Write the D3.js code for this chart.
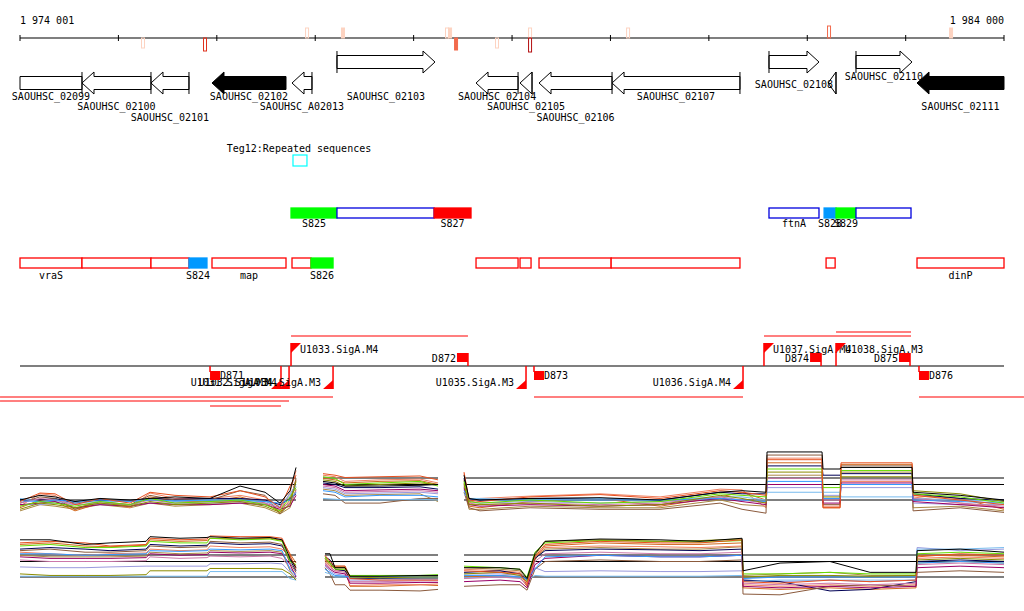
<!DOCTYPE html>
<html>
<head>
<meta charset="utf-8">
<script src="https://cdn.jsdelivr.net/npm/d3@7"></script>
<style>
body { margin: 0; background: #fff; }
svg { display: block; }
text { font-family: "DejaVu Sans Mono", monospace; font-size: 10px; fill: #000; }
</style>
</head>
<body>
<svg id="chart" width="1024" height="611"></svg>
<script>
// ---------------- data ----------------
var viewStart = 1974001, viewEnd = 1984000;
var axisLabels = ["1 974 001", "1 984 000"];
var tickValues = [1974001, 1975001, 1976001, 1977001, 1978001, 1979001, 1980001, 1981001, 1982001, 1983001, 1984000];

// signal marks on the ruler: position, strand side, level 1..4, filled
var sigMarks = [
  {pos: 1975251, side: -1, level: 1, filled: false},
  {pos: 1975881, side: -1, level: 3, filled: false},
  {pos: 1976918, side: 1, level: 1, filled: false},
  {pos: 1977283, side: 1, level: 1, filled: true},
  {pos: 1978340, side: 1, level: 1, filled: false},
  {pos: 1978371, side: 1, level: 1, filled: true},
  {pos: 1978432, side: -1, level: 2, filled: true},
  {pos: 1978848, side: -1, level: 1, filled: false},
  {pos: 1979184, side: 1, level: 1, filled: false},
  {pos: 1979184, side: -1, level: 4, filled: false},
  {pos: 1980180, side: 1, level: 1, filled: false},
  {pos: 1982222, side: 1, level: 2, filled: false},
  {pos: 1983462, side: 1, level: 1, filled: true}
];

var genes = [
  {name: "SAOUHSC_02099", start: 1973500, end: 1974631, strand: -1, black: false, lane: 2},
  {name: "SAOUHSC_02100", start: 1974631, end: 1975332, strand: -1, black: false, lane: 3},
  {name: "SAOUHSC_02101", start: 1975332, end: 1975718, strand: -1, black: false, lane: 4},
  {name: "SAOUHSC_02102", start: 1975952, end: 1976704, strand: -1, black: true, lane: 2},
  {name: "SAOUHSC_A02013", start: 1976765, end: 1976968, strand: -1, black: false, lane: 3},
  {name: "SAOUHSC_02103", start: 1977222, end: 1978218, strand: 1, black: false, lane: 2},
  {name: "SAOUHSC_02104", start: 1978635, end: 1979062, strand: -1, black: false, lane: 2},
  {name: "SAOUHSC_02105", start: 1979082, end: 1979204, strand: -1, black: false, lane: 3},
  {name: "SAOUHSC_02106", start: 1979275, end: 1980017, strand: -1, black: false, lane: 4},
  {name: "SAOUHSC_02107", start: 1980017, end: 1981317, strand: -1, black: false, lane: 2},
  {name: "SAOUHSC_02108", start: 1981612, end: 1982120, strand: 1, black: false, lane: 1},
  {name: "", start: 1982212, end: 1982293, strand: -1, black: false, lane: 0},
  {name: "SAOUHSC_02110", start: 1982496, end: 1983065, strand: 1, black: false, lane: 0},
  {name: "SAOUHSC_02111", start: 1983116, end: 1984400, strand: -1, black: true, lane: 3}
];

var repeatLabel = "Teg12:Repeated sequences";
var repeats = [{start: 1976775, end: 1976917}];

// feature rows; kind: box / green / red / blue
var featureRow1 = [
  {name: "S825", start: 1976755, end: 1977222, kind: "green"},
  {name: "", start: 1977222, end: 1978209, kind: "box"},
  {name: "S827", start: 1978209, end: 1978584, kind: "red"},
  {name: "ftnA", start: 1981612, end: 1982120, kind: "box"},
  {name: "S828", start: 1982172, end: 1982293, kind: "blue"},
  {name: "S829", start: 1982293, end: 1982496, kind: "green"},
  {name: "", start: 1982496, end: 1983055, kind: "box"}
];
var featureRow2 = [
  {name: "vraS", start: 1974001, end: 1974631, kind: "box"},
  {name: "", start: 1974631, end: 1975332, kind: "box"},
  {name: "", start: 1975332, end: 1975718, kind: "box"},
  {name: "S824", start: 1975718, end: 1975901, kind: "blue"},
  {name: "map", start: 1975952, end: 1976704, kind: "box"},
  {name: "", start: 1976765, end: 1976958, kind: "box"},
  {name: "S826", start: 1976958, end: 1977182, kind: "green"},
  {name: "", start: 1978635, end: 1979062, kind: "box"},
  {name: "", start: 1979082, end: 1979194, kind: "box"},
  {name: "", start: 1979275, end: 1980008, kind: "box"},
  {name: "", start: 1980008, end: 1981317, kind: "box"},
  {name: "", start: 1982192, end: 1982284, kind: "box"},
  {name: "dinP", start: 1983116, end: 1984000, kind: "box"}
];

// transcription units (promoter at 5' end), lane for the extent line
var units = [
  {name: "U1031.SigA.M3", strand: -1, start: 1975932, end: 1976653, lane: 2},
  {name: "U1032.SigA.M4", strand: -1, start: 1973798, end: 1976735, lane: 1},
  {name: "U1033.SigA.M4", strand: 1, start: 1976755, end: 1978553, lane: 0},
  {name: "U1034.SigA.M3", strand: -1, start: 1973798, end: 1977182, lane: 0},
  {name: "U1035.SigA.M3", strand: -1, start: null, end: 1979143, lane: 0},
  {name: "U1036.SigA.M4", strand: -1, start: 1979224, end: 1981348, lane: 0},
  {name: "U1037.SigA.M4", strand: 1, start: 1981561, end: 1983055, lane: 0},
  {name: "U1038.SigA.M3", strand: 1, start: 1982293, end: 1983055, lane: 1},
  {name: "", strand: -1, start: 1983136, end: 1984203, lane: 0}
];
var terminators = [
  {name: "D871", strand: -1, pos: 1975932},
  {name: "D872", strand: 1, pos: 1978553},
  {name: "D873", strand: -1, pos: 1979224},
  {name: "D874", strand: 1, pos: 1982141},
  {name: "D875", strand: 1, pos: 1983045},
  {name: "D876", strand: -1, pos: 1983136}
];

// expression profiles
var seriesColors = ["#000000", "#e8501f", "#8c8c00", "#66dd00", "#3399ff", "#990066", "#cc77aa",
  "#77bbee", "#8b5a3c", "#000055", "#f08060", "#9999dd", "#d2691e", "#aa8844"];
var refLevels = [0, 1, 1.42];

var panelA1Pos = [1974001, 1974204, 1974357, 1974560, 1974814, 1975119, 1975322, 1975576, 1975932, 1976237, 1976491, 1976643, 1976745, 1976806];
var panelA1Vals = [
  [0, 0.3, 0.2, -0.1, 0.1, 0, 0.1, 0.2, 0.1, 0.9, 0.5, -0.2, 0.6, 2.1],
  [-0.1, 0.45, 0.4, -0.3, 0.1, -0.2, 0.5, 0.3, 0.2, 0.6, 0.2, -0.5, 0.9, 1.6],
  [-0.6, -0.2, -0.3, -0.5, -0.2, -0.4, -0.1, -0.3, -0.2, -0.1, -0.4, -0.8, -0.3, 1.2],
  [-0.4, -0.1, -0.2, -0.4, -0.1, -0.3, 0.1, -0.2, -0.1, 0, -0.3, -0.7, 0.2, 0.8],
  [-0.05, -0.1, 0, -0.1, 0, -0.1, 0, -0.05, 0, 0, -0.1, -0.2, 0, 0.5],
  [-0.3, -0.2, -0.1, -0.5, -0.3, -0.4, -0.2, -0.3, -0.3, -0.2, -0.3, -0.6, -0.4, 0.3],
  [-0.2, 0.1, 0, -0.3, -0.2, -0.3, 0, -0.2, -0.1, -0.1, -0.2, -0.5, -0.2, 0.6],
  [0.1, -0.1, -0.1, -0.2, -0.1, -0.1, 0.05, -0.1, 0, -0.05, -0.1, -0.4, 0.4, 1.0],
  [-0.2, 0.2, 0.1, -0.6, -0.1, -0.3, 0.3, 0, 0, 0.6, 0.3, -0.9, -0.2, 1.4],
  [0, 0, 0.1, -0.2, 0, -0.1, 0.1, 0.05, 0.1, 0.1, 0, -0.3, 0.1, 0.4],
  [-0.4, 0.4, 0.3, -0.6, 0, -0.5, 0.45, 0.1, 0.1, 0.3, 0, -0.7, 0.5, 1.9],
  [-0.3, -0.3, -0.2, -0.3, -0.3, -0.3, -0.2, -0.2, -0.2, -0.2, -0.2, -0.5, 0.3, 0.9],
  [-0.5, 0, -0.1, -0.7, -0.2, -0.45, 0.2, -0.1, -0.1, 0.2, -0.2, -0.8, 0, 1.3],
  [-0.7, -0.3, -0.4, -0.6, -0.3, -0.5, -0.2, -0.4, -0.3, -0.2, -0.5, -0.9, -0.5, 0.7]
];

var panelA2Pos = [1977080, 1977202, 1977304, 1977659, 1978066, 1978249];
var panelA2Vals = [
  [1.2, 1.1, 0.9, 0.9, 0.95, 1.0],
  [1.7, 1.6, 1.45, 1.5, 1.55, 1.3],
  [1.3, 1.2, 0.9, 1.0, 1.1, 1.0],
  [1.5, 1.4, 1.0, 1.1, 1.2, 0.9],
  [0.6, 0.5, 0.2, 0.3, 0.3, 0.2],
  [1.0, 0.9, 0.6, 0.65, 0.7, 0.6],
  [0.9, 0.8, 0.5, 0.55, 0.6, 0.5],
  [0.1, 0.05, 0, 0, 0.05, 0],
  [0.4, 0.3, -0.2, -0.2, 0.1, 0.1],
  [1.1, 1.0, 0.8, 0.8, 0.85, 0.7],
  [1.6, 1.5, 1.2, 1.3, 1.35, 1.1],
  [0.8, 0.7, 0.4, 0.45, 0.5, 0.4],
  [1.4, 1.3, 1.1, 1.2, 1.25, 1.0],
  [0.7, 0.6, 0.3, 0.35, 0.4, -0.1]
];

var panelA3Pos = [1978513, 1978564, 1978675, 1979184, 1979895, 1980505, 1981115, 1981338, 1981582, 1981592, 1982151, 1982161, 1982334, 1982344, 1983066, 1983076, 1983554, 1984000];
var panelA3Vals = [
  [1.6, 0.1, 0, 0.1, 0.15, 0, 0.5, 0.6, 0.5, 3.1, 3.1, 2.0, 2.0, 2.1, 2.1, 0.5, 0.3, 0],
  [1.8, 0, -0.1, 0.2, 0.35, 0.1, 0.6, 0.5, 0.3, 2.6, 2.6, -0.5, -0.5, 2.4, 2.4, 0.3, 0, -0.3],
  [1.0, -0.3, -0.3, -0.2, -0.4, -0.3, 0.3, 0.1, -0.2, 1.8, 1.8, 0.2, 0.2, 1.5, 1.5, 0.6, 0.4, -0.1],
  [1.2, -0.1, -0.2, 0, -0.2, -0.1, 0.4, 0.3, 0.2, 2.0, 2.0, 0.8, 0.8, 1.9, 1.9, 0.4, 0.2, -0.2],
  [0.6, 0, 0, 0, 0, 0, 0.1, 0, -0.1, 1.2, 1.2, 0.1, 0.1, 1.0, 1.0, 0, -0.1, -0.2],
  [0.8, -0.3, -0.4, -0.3, -0.4, -0.3, 0.1, -0.1, -0.3, 1.0, 1.0, -0.2, -0.2, 1.1, 1.1, -0.1, -0.3, -0.5],
  [0.9, -0.2, -0.3, -0.2, -0.3, -0.2, 0.2, 0, -0.2, 1.4, 1.4, 0, 0, 1.3, 1.3, 0.1, -0.2, -0.4],
  [0.4, 0.1, 0.1, 0, 0.1, 0, 0.2, 0.2, 0, 0.5, 0.5, 0.5, 0.5, 0.2, 0.2, 0.1, 0, -0.1],
  [0.5, -0.5, -0.7, -0.5, -0.6, -0.6, -0.2, -0.6, -0.85, 2.9, 2.9, -0.3, -0.3, 2.2, 2.2, -0.7, -0.5, -0.8],
  [1.4, 0.05, 0, 0.1, 0.1, 0, 0.5, 0.4, 0.4, 2.2, 2.2, 1.6, 1.6, 1.7, 1.7, 0.4, 0.1, 0],
  [1.7, -0.2, 0.1, 0.25, 0.4, 0.2, 0.7, 0.65, -0.5, 2.7, 2.7, -0.4, -0.4, 1.2, 1.2, 0.2, -0.2, -0.5],
  [0.7, -0.1, -0.2, -0.1, -0.2, -0.1, 0.1, 0, -0.1, 0.8, 0.8, 0.3, 0.3, 0.8, 0.8, -0.2, -0.3, -0.3],
  [1.3, -0.4, -0.5, -0.1, 0.1, -0.4, 0.2, 0.5, 0, 2.4, 2.4, -0.5, -0.5, 2.3, 2.3, 0.3, 0.1, -0.6],
  [1.1, -0.6, -0.6, -0.4, -0.5, -0.5, 0, -0.3, -0.4, 1.6, 1.6, 0.1, 0.1, 1.8, 1.8, -0.5, -0.4, -0.7]
];

var panelB1Pos = [1974001, 1974306, 1974662, 1974916, 1975282, 1975322, 1975627, 1975901, 1975932, 1976237, 1976542, 1976664, 1976745, 1976806];
var panelB1Vals = [
  [2.4, 2.4, 2.1, 2.2, 2.3, 2.6, 2.5, 2.55, 2.6, 2.5, 2.55, 2.4, 1.2, 0.6],
  [2.2, 2.3, 2.2, 2.0, 2.1, 2.5, 2.4, 2.45, 2.65, 2.6, 2.6, 2.5, 1.4, 0.5],
  [0.2, 0.1, 0.1, 0.1, 0.15, 0.4, 0.4, 0.4, 0.55, 0.55, 0.55, 0.5, 0.2, -0.2],
  [2.0, 2.1, 1.9, 1.9, 2.0, 2.3, 2.2, 2.2, 2.5, 2.4, 2.45, 2.3, 1.0, 0.8],
  [1.5, 1.5, 1.4, 1.45, 1.5, 1.7, 1.65, 1.7, 1.8, 1.75, 1.8, 1.7, 0.5, 0.1],
  [1.3, 1.2, 1.2, 1.2, 1.25, 1.5, 1.4, 1.45, 1.6, 1.55, 1.6, 1.5, 0.8, 0],
  [1.1, 1.0, 1.0, 1.0, 1.05, 1.3, 1.2, 1.25, 1.35, 1.3, 1.35, 1.2, 0.6, 0.2],
  [0.05, 0.05, 0.05, 0.05, 0.05, 0.05, 0.05, 0.05, 0.35, 0.35, 0.35, 0.35, -0.1, -0.2],
  [1.7, 1.8, 1.6, 1.6, 1.7, 2.0, 1.9, 1.95, 2.3, 2.2, 2.25, 2.1, 0.9, 0.3],
  [1.8, 1.9, 1.8, 1.7, 1.8, 2.1, 2.0, 2.05, 2.2, 2.1, 2.15, 2.0, 1.1, 0.4],
  [1.6, 1.5, 1.4, 1.5, 1.55, 1.8, 1.7, 1.75, 2.0, 1.9, 1.95, 1.8, 1.3, 0.7],
  [0.65, 0.6, 0.6, 0.65, 0.7, 0.7, 0.7, 0.7, 0.85, 0.85, 0.9, 0.85, 0.3, -0.1],
  [2.1, 2.2, 2.0, 1.95, 2.05, 2.4, 2.3, 2.35, 2.5, 2.45, 2.5, 2.35, 1.5, 0.9],
  [1.4, 1.3, 1.3, 1.3, 1.35, 1.6, 1.5, 1.55, 1.7, 1.65, 1.7, 1.6, 0.4, -0.1]
];

var panelB2Pos = [1977100, 1977151, 1977202, 1977304, 1977354, 1977659, 1978066, 1978249];
var panelB2Vals = [
  [1.5, 1.5, 0.6, 0.6, 0.05, 0.05, 0.1, 0.1],
  [1.4, 1.0, 0.7, 0.7, -0.1, -0.2, -0.2, -0.2],
  [1.2, 0.8, 0.6, 0.6, 0, -0.05, 0, 0],
  [1.3, 0.9, 0.5, 0.5, 0.1, 0.1, 0.1, 0.15],
  [0.5, 0.3, 0.1, 0.05, 0, 0, 0, 0],
  [0.8, 0.5, 0.3, 0.2, -0.4, -0.4, -0.35, -0.35],
  [0.9, 0.6, 0.4, 0.3, -0.3, -0.3, -0.25, -0.25],
  [0.3, 0.2, 0, 0, -0.05, -0.05, -0.05, -0.05],
  [0.6, 0.2, -0.5, -0.5, -0.85, -0.85, -0.9, -0.8],
  [1.3, 1.1, 0.5, 0.4, -0.1, -0.1, -0.05, -0.05],
  [1.1, 0.7, 0.4, 0.4, -0.55, -0.5, -0.5, -0.45],
  [0.7, 0.4, 0.2, 0.1, -0.2, -0.2, -0.15, -0.15],
  [1.0, 0.7, 0.6, 0.6, -0.6, -0.6, -0.5, -0.55],
  [1.2, 0.9, 0.7, 0.7, 0.05, 0, -0.1, -0.1]
];

var panelB3Pos = [1978513, 1978879, 1979082, 1979153, 1979234, 1979336, 1979895, 1980505, 1980911, 1981338, 1981348, 1981724, 1982232, 1982639, 1983106, 1983117, 1983554, 1984000];
var panelB3Vals = [
  [0.6, 0.6, 0.5, -0.1, 1.5, 2.3, 2.45, 2.4, 2.3, 2.5, 0.4, 0.9, 1.0, 0.3, 0.3, 1.7, 1.8, 1.6],
  [0.4, 0.3, 0.2, -0.5, 1.3, 2.1, 2.3, 2.2, 2.2, 2.4, -0.3, -0.4, -0.2, -0.3, -0.2, 1.3, 1.5, 1.4],
  [0.2, 0.3, 0.1, -0.3, 1.4, 2.3, 2.4, 2.3, 2.35, 2.45, 0, 0.1, 0.1, 0.05, 0.1, 1.1, 1.2, 1.1],
  [0.7, 0.6, 0.5, 0, 1.6, 2.2, 2.35, 2.3, 2.25, 2.35, 0.2, 0.2, 0.3, 0.2, 0.2, 1.5, 1.6, 1.5],
  [0.1, 0.1, 0, -0.1, 0.5, 1.3, 1.4, 1.3, 1.3, 1.4, -0.1, 0, 0, 0, 0, 0.9, 1.0, 0.9],
  [-0.3, -0.2, -0.3, -0.7, 0.8, 1.2, 1.4, 1.3, 1.3, 1.4, -0.6, -0.7, -0.6, -0.7, -0.6, 0.6, 0.7, 0.6],
  [-0.1, 0, -0.1, -0.5, 1.0, 1.5, 1.6, 1.5, 1.5, 1.6, -0.4, -0.5, -0.4, -0.5, -0.4, 0.8, 0.9, 0.8],
  [-0.05, 0, 0, -0.2, 0.1, 0.05, 0.05, 0.05, 0.05, 0.1, -0.3, -0.2, -0.2, -0.2, -0.2, 1.8, 1.8, 1.9],
  [-0.6, -0.5, -0.5, -0.85, 0.5, 1.0, 1.1, 1.0, 1.0, 1.1, -1.1, -1.15, -0.6, -0.5, -0.6, 0.3, 0.4, 0.3],
  [0.3, 0.4, 0.2, -0.2, 1.2, 1.7, 1.8, 1.75, 1.7, 1.8, -0.2, -0.3, -0.9, -0.8, -0.3, 1.0, 1.1, 1.0],
  [0.5, 0.4, 0.3, -0.4, 1.3, 1.9, 2.0, 1.95, 1.9, 2.0, -0.5, -0.6, -0.5, -0.6, -0.5, 1.2, 1.3, 1.2],
  [0.2, 0.2, 0.1, -0.3, 0.6, 0.35, 0.4, 0.35, 0.35, 0.4, -0.2, -0.3, -0.2, -0.3, -0.2, 1.9, 1.7, 1.8],
  [0.0, 0.1, 0, -0.6, 1.1, 2.0, 2.2, 2.1, 2.1, 2.2, -0.7, -0.8, -0.7, -0.8, -0.7, 1.4, 1.4, 1.3],
  [0.6, 0.5, 0.4, -0.2, 1.2, 1.8, 1.9, 1.8, 1.8, 1.95, 0.1, 0.2, 0.3, 0.1, 0.1, 0.9, 1.0, 0.9]
];

// ---------------- drawing ----------------
var svg = d3.select("#chart");
var x = d3.scaleLinear().domain([viewStart, viewEnd]).range([20, 1004]);
var clipX = function (p) { return Math.max(20, Math.min(1004, x(p))); };

// ruler
var rulerY = 38;
svg.append("line").attr("x1", x(viewStart)).attr("x2", x(viewEnd)).attr("y1", rulerY).attr("y2", rulerY)
  .attr("stroke", "#000").attr("stroke-width", 1.2);
svg.selectAll(".tick").data(tickValues).enter().append("line")
  .attr("x1", function (d) { return x(d); }).attr("x2", function (d) { return x(d); })
  .attr("y1", rulerY - 3).attr("y2", rulerY + 3).attr("stroke", "#000");
svg.append("text").attr("x", x(viewStart)).attr("y", 24).text(axisLabels[0]);
svg.append("text").attr("x", x(viewEnd)).attr("y", 24).attr("text-anchor", "end").text(axisLabels[1]);

var sigColor = d3.scaleOrdinal().domain([1, 2, 3, 4]).range(["#fdd3c1", "#f26a4c", "#e0321e", "#b40f10"]);
var sigHeight = d3.scaleOrdinal().domain([1, 2, 3, 4]).range([10, 12, 13, 14]);
svg.selectAll(".sig").data(sigMarks).enter().append("rect")
  .attr("x", function (d) { return x(d.pos) - 1.5; })
  .attr("y", function (d) { return d.side > 0 ? rulerY - sigHeight(d.level) : rulerY; })
  .attr("width", 3).attr("height", function (d) { return sigHeight(d.level); })
  .attr("fill", function (d) { return d.filled ? sigColor(d.level) : "none"; })
  .attr("stroke", function (d) { return sigColor(d.level); }).attr("stroke-width", 1);

// genes
var laneY = [80, 88, 100, 110, 121];
function arrowPoints(g) {
  var x0 = clipX(g.start), x1 = clipX(g.end);
  var cutL = x(g.start) < 20, cutR = x(g.end) > 1004;
  var cy = g.strand > 0 ? 62 : 83, hb = 6.5, hh = 11, hl = 12;
  if (g.strand > 0) {
    if (cutR) return [[x0, cy - hb], [x1, cy - hb], [x1, cy + hb], [x0, cy + hb]];
    if (x1 - x0 <= hl) return [[x0, cy - hh], [x1, cy], [x0, cy + hh]];
    return [[x0, cy - hb], [x1 - hl, cy - hb], [x1 - hl, cy - hh], [x1, cy], [x1 - hl, cy + hh], [x1 - hl, cy + hb], [x0, cy + hb]];
  }
  if (cutL) return [[x0, cy - hb], [x1, cy - hb], [x1, cy + hb], [x0, cy + hb]];
  if (x1 - x0 <= hl) return [[x1, cy - hh], [x0, cy], [x1, cy + hh]];
  return [[x1, cy - hb], [x0 + hl, cy - hb], [x0 + hl, cy - hh], [x0, cy], [x0 + hl, cy + hh], [x0 + hl, cy + hb], [x1, cy + hb]];
}
var geneG = svg.append("g");
genes.forEach(function (g) {
  var pts = arrowPoints(g);
  var cy = g.strand > 0 ? 62 : 83;
  geneG.append("polygon").attr("points", pts.map(function (p) { return p.join(","); }).join(" "))
    .attr("fill", g.black ? "#000" : "#fff").attr("stroke", "#000").attr("stroke-width", 1);
  var tailPos = g.strand > 0 ? g.start : g.end;
  if (x(tailPos) >= 20 && x(tailPos) <= 1004 && !g.black) {
    geneG.append("line").attr("x1", x(tailPos)).attr("x2", x(tailPos))
      .attr("y1", cy - 11).attr("y2", cy + 11).attr("stroke", "#000");
  }
});
// labels on top of every arrow
geneG.selectAll("text").data(genes.filter(function (g) { return g.name; })).enter().append("text")
  .attr("x", function (g) { return (clipX(g.start) + clipX(g.end)) / 2; })
  .attr("y", function (g) { return laneY[g.lane]; })
  .attr("text-anchor", "middle").text(function (g) { return g.name; });

// repeats
svg.append("text").attr("x", x((repeats[0].start + repeats[0].end) / 2) - 1).attr("y", 152)
  .attr("text-anchor", "middle").text(repeatLabel);
svg.selectAll(".rep").data(repeats).enter().append("rect")
  .attr("x", function (d) { return x(d.start); }).attr("y", 155)
  .attr("width", function (d) { return x(d.end) - x(d.start); }).attr("height", 11)
  .attr("fill", "none").attr("stroke", "#00ffff").attr("stroke-width", 1.2);

// feature rows
var kindFill = {green: "#00ff00", red: "#ff0000", blue: "#0099ff", box: "#fff"};
function plotFeatures(rows, top, outline, labelY) {
  var g = svg.append("g");
  g.selectAll("rect").data(rows).enter().append("rect")
    .attr("x", function (d) { return clipX(d.start); }).attr("y", top)
    .attr("width", function (d) { return clipX(d.end) - clipX(d.start); }).attr("height", 10)
    .attr("fill", function (d) { return kindFill[d.kind]; })
    .attr("stroke", function (d) { return d.kind === "box" ? outline : kindFill[d.kind]; })
    .attr("stroke-width", 1.3);
  g.selectAll("text").data(rows.filter(function (d) { return d.name; })).enter().append("text")
    .attr("x", function (d) { return (clipX(d.start) + clipX(d.end)) / 2; }).attr("y", labelY)
    .attr("text-anchor", "middle").text(function (d) { return d.name; });
}
plotFeatures(featureRow1, 208, "#0000dd", 227);
plotFeatures(featureRow2, 258, "#ff0000", 279);

// transcription units
var tuY = 366, red = "#ff0000";
var tuG = svg.append("g");
tuG.append("line").attr("x1", x(viewStart)).attr("x2", x(viewEnd)).attr("y1", tuY).attr("y2", tuY)
  .attr("stroke", "#000").attr("stroke-width", 1.2);
var fwdLaneY = [336, 332], revLaneY = [397, 401, 406];
units.forEach(function (u) {
  if (u.start !== null) {
    var ly = u.strand > 0 ? fwdLaneY[u.lane] : revLaneY[u.lane];
    tuG.append("line").attr("x1", x(u.start)).attr("x2", x(u.end)).attr("y1", ly).attr("y2", ly)
      .attr("stroke", red).attr("stroke-width", 1.2);
  }
  if (!u.name) return;
  if (u.strand > 0) {
    var px = x(u.start);
    tuG.append("line").attr("x1", px).attr("x2", px).attr("y1", tuY).attr("y2", 343).attr("stroke", red).attr("stroke-width", 1.5);
    tuG.append("polygon").attr("points", [[px, 343], [px + 10, 343], [px, 353]].join(" ")).attr("fill", red);
    tuG.append("text").attr("x", px + 9).attr("y", 353).text(u.name);
  } else {
    var qx = x(u.end);
    tuG.append("line").attr("x1", qx).attr("x2", qx).attr("y1", tuY).attr("y2", 389).attr("stroke", red).attr("stroke-width", 1.5);
    tuG.append("polygon").attr("points", [[qx, 389], [qx - 10, 389], [qx, 380]].join(" ")).attr("fill", red);
    tuG.append("text").attr("x", qx - 12).attr("y", 386).attr("text-anchor", "end").text(u.name);
  }
});
terminators.forEach(function (t) {
  var tx = x(t.pos);
  if (t.strand > 0) {
    tuG.append("line").attr("x1", tx).attr("x2", tx).attr("y1", 353).attr("y2", tuY).attr("stroke", red).attr("stroke-width", 1.5);
    tuG.append("rect").attr("x", tx - 11).attr("y", 353).attr("width", 11).attr("height", 9).attr("fill", red);
    tuG.append("text").attr("x", tx - 12).attr("y", 362).attr("text-anchor", "end").text(t.name);
  } else {
    tuG.append("line").attr("x1", tx).attr("x2", tx).attr("y1", tuY).attr("y2", 372).attr("stroke", red).attr("stroke-width", 1.5);
    tuG.append("rect").attr("x", tx).attr("y", 371).attr("width", 10).attr("height", 9).attr("fill", red);
    tuG.append("text").attr("x", tx + 10).attr("y", 379).text(t.name);
  }
});

// expression panels
function plotPanel(pos, vals, y) {
  var g = svg.append("g");
  var x0 = x(pos[0]), x1 = x(pos[pos.length - 1]);
  refLevels.forEach(function (r) {
    g.append("line").attr("x1", x0).attr("x2", x1).attr("y1", y(r)).attr("y2", y(r))
      .attr("stroke", "#000").attr("stroke-width", 1.2);
  });
  var line = d3.line().x(function (d) { return x(d[0]); }).y(function (d) { return y(d[1]); });
  for (var i = vals.length - 1; i >= 0; i--) {
    var pts = pos.map(function (p, j) { return [p, vals[i][j]]; });
    g.append("path").attr("d", line(pts)).attr("fill", "none")
      .attr("stroke", seriesColors[i]).attr("stroke-width", 1);
  }
}
var yA = d3.scaleLinear().domain([0, 1]).range([500, 484.5]);
var yB = d3.scaleLinear().domain([0, 1]).range([577, 561.5]);
plotPanel(panelA1Pos, panelA1Vals, yA);
plotPanel(panelA2Pos, panelA2Vals, yA);
plotPanel(panelA3Pos, panelA3Vals, yA);
plotPanel(panelB1Pos, panelB1Vals, yB);
plotPanel(panelB2Pos, panelB2Vals, yB);
plotPanel(panelB3Pos, panelB3Vals, yB);
</script>
</body>
</html>
